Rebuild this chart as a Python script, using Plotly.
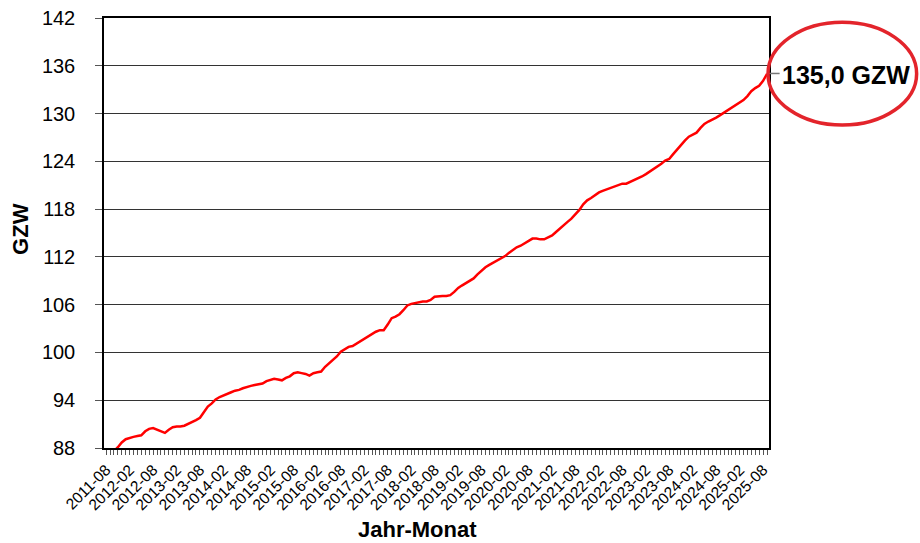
import pandas as pd
import plotly.graph_objects as go

# monatliche GZW-Werte, 2011-08 bis 2025-09
gzw = [
    87.2, 87.4, 87.6, 88.1, 88.7,                                       # 2011-08..12
    89.1, 89.3, 89.4, 89.5, 89.6, 90.1, 90.4, 90.5, 90.3, 90.1, 89.9, 90.3,  # 2012
    90.6, 90.7, 90.7, 90.8, 91.0, 91.3, 91.5, 91.8, 92.5, 93.2, 93.6, 94.1,  # 2013
    94.4, 94.6, 94.7, 95.0, 95.2, 95.3, 95.5, 95.7, 95.8, 95.9, 96.0, 96.1,  # 2014
    96.4, 96.6, 96.7, 96.6, 96.5, 96.8, 97.0, 97.4, 97.5, 97.4, 97.3, 97.1,  # 2015
    97.4, 97.5, 97.6, 98.2, 98.6, 99.0, 99.5, 100.1, 100.4, 100.7, 100.8, 101.1,  # 2016
    101.4, 101.7, 102.0, 102.2, 102.6, 102.8, 102.8, 103.5, 104.3, 104.5, 104.8, 105.3,  # 2017
    105.9, 106.1, 106.2, 106.3, 106.4, 106.4, 106.6, 107.0, 107.1, 107.1, 107.1, 107.2,  # 2018
    107.6, 108.1, 108.4, 108.7, 109.0, 109.3, 109.8, 110.3, 110.7, 111.0, 111.3, 111.5,  # 2019
    111.8, 112.1, 112.5, 112.9, 113.2, 113.4, 113.7, 114.0, 114.3, 114.3, 114.2, 114.2,  # 2020
    114.4, 114.7, 115.1, 115.5, 115.9, 116.4, 116.8, 117.3, 117.9, 118.6, 119.1, 119.4,  # 2021
    119.8, 120.1, 120.3, 120.5, 120.7, 120.9, 121.1, 121.2, 121.2, 121.4, 121.7, 121.9,  # 2022
    122.1, 122.4, 122.7, 123.0, 123.3, 123.7, 124.1, 124.3, 124.9, 125.5, 126.0, 126.6,  # 2023
    127.1, 127.4, 127.6, 128.2, 128.7, 129.0, 129.2, 129.5, 129.8, 130.1, 130.4, 130.7,  # 2024
    131.1, 131.4, 131.7, 132.2, 132.8, 133.2, 133.5, 134.1, 135.0,                   # 2025-01..09
]
monate = pd.date_range("2011-08-01", periods=len(gzw), freq="MS")
y_ticks = [88, 94, 100, 106, 112, 118, 124, 130, 136, 142]
letzter_wert = "135,0 GZW"

font = "Liberation Sans, Arial, sans-serif"
rot = "#e3242b"

fig = go.Figure()
fig.add_trace(go.Scatter(x=monate, y=gzw, mode="lines",
                         line=dict(color="#ff0000", width=2.5),
                         showlegend=False, hoverinfo="x+y"))

fig.update_layout(
    width=920, height=543,
    margin=dict(l=104, r=151, t=18, b=95, autoexpand=False),
    plot_bgcolor="white", paper_bgcolor="white",
    font=dict(family=font, color="black"),
)

fig.update_xaxes(
    type="date", automargin=False,
    range=["2011-07-16", "2025-09-16"],
    tick0="2011-08-01", dtick="M6", tickformat="%Y-%m",
    tickangle=-45, tickfont=dict(size=15.5),
    ticks="outside", ticklen=5, tickcolor="#555",
    minor=dict(ticks="outside", dtick="M1", tick0="2011-08-01", ticklen=5, tickcolor="#555"),
    showgrid=False, showline=True, linecolor="black", linewidth=1.5, mirror=True,
)
fig.update_yaxes(
    automargin=False,
    range=[88, 142], tickvals=y_ticks, tickfont=dict(size=20),
    ticks="outside", ticklen=7, tickcolor="#555", ticklabelstandoff=16,
    showgrid=True, gridcolor="#333", gridwidth=1,
    showline=True, linecolor="black", linewidth=1.5, mirror=True,
    zeroline=False,
)

# Achsentitel
fig.add_annotation(text="<b>Jahr-Monat</b>", xref="paper", yref="paper",
                   x=0.472, y=-0.19, xanchor="center", yanchor="middle",
                   showarrow=False, font=dict(size=22))
fig.add_annotation(text="<b>GZW</b>", xref="paper", yref="paper",
                   x=-0.126, y=0.51, xanchor="center", yanchor="middle",
                   showarrow=False, textangle=-90, font=dict(size=22))

# Markierung des letzten Wertes
fig.add_shape(type="line", xref="paper", yref="paper",
              x0=1.0, x1=1.016, y0=0.871, y1=0.871, line=dict(color="#777", width=1.5))
fig.add_shape(type="circle", xref="paper", yref="paper",
              x0=0.9985, x1=1.222, y0=0.751, y1=0.99, line=dict(color=rot, width=3.5))
fig.add_annotation(text="<b>" + letzter_wert + "</b>", xref="paper", yref="paper",
                   x=1.1158, y=0.8674, xanchor="center", yanchor="middle",
                   showarrow=False, font=dict(size=25))

# Seitenrand des Browsers entfernen, damit die Grafik bei (0,0) beginnt
fig.write_html("out.html", config={"displayModeBar": False},
               post_script="document.body.style.margin='0';")
